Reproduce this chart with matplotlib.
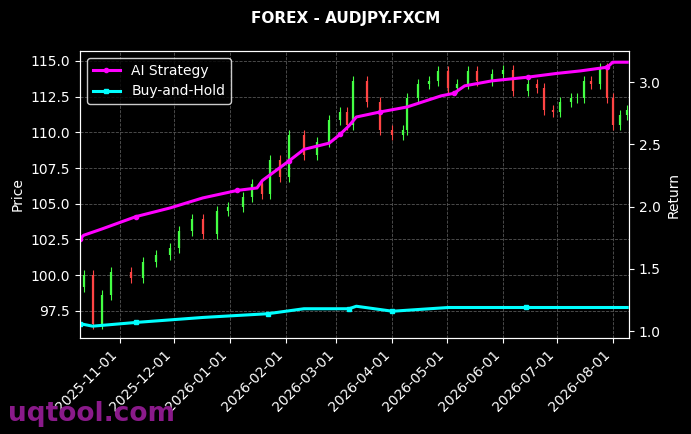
import matplotlib
matplotlib.use("Agg")
import matplotlib.pyplot as plt
import matplotlib.dates as mdates
import numpy as np
import pandas as pd

price_dates = ["2025-10-12","2025-10-17","2025-10-22","2025-10-27","2025-11-07","2025-11-14","2025-11-21",
    "2025-11-29","2025-12-04","2025-12-11","2025-12-17","2025-12-25","2025-12-31","2026-01-08","2026-01-13",
    "2026-01-19","2026-01-23","2026-01-29","2026-02-03","2026-02-11","2026-02-18","2026-02-25","2026-03-03",
    "2026-03-07","2026-03-10","2026-03-18","2026-03-25","2026-04-01","2026-04-07","2026-04-09","2026-04-15",
    "2026-04-21","2026-04-26","2026-05-02","2026-05-07","2026-05-13","2026-05-18","2026-05-26","2026-06-01",
    "2026-06-07","2026-06-15","2026-06-20","2026-06-24","2026-06-29","2026-07-03","2026-07-09","2026-07-12",
    "2026-07-16","2026-07-20","2026-07-25","2026-07-29","2026-08-01","2026-08-05","2026-08-09"]
closes = [100.0,96.6,98.6,100.2,99.8,100.9,101.4,101.9,103.1,103.9,102.9,104.5,104.8,105.5,106.4,
    105.7,108.1,106.9,109.8,108.4,109.3,110.9,111.4,110.5,113.6,112.1,110.2,109.8,110.2,112.4,113.4,
    113.6,114.3,113.1,113.4,114.3,113.6,114.1,114.4,112.9,113.4,113.1,111.6,111.4,112.1,112.4,112.4,
    113.6,113.4,114.5,112.4,110.5,111.2,111.6]
opens = [99.2] + closes[:-1]
wick = 0.35

strat_dates = ["2025-10-10","2025-10-12","2025-10-22","2025-11-10","2025-11-29","2025-12-17","2026-01-05",
    "2026-01-16","2026-01-19","2026-02-03","2026-02-11","2026-02-25","2026-03-03","2026-03-08","2026-03-12",
    "2026-03-25","2026-04-09","2026-04-28","2026-05-05","2026-05-11","2026-05-26","2026-06-15","2026-07-01",
    "2026-07-14","2026-07-29","2026-08-01","2026-08-09"]
strat_vals = [1.74,1.77,1.82,1.92,1.99,2.07,2.13,2.15,2.21,2.37,2.46,2.51,2.58,2.65,2.72,2.76,2.80,2.89,
    2.91,2.97,3.01,3.04,3.07,3.09,3.12,3.16,3.16]

bh_dates = ["2025-10-10","2025-10-17","2025-11-10","2025-12-17","2026-01-22","2026-02-11","2026-03-08",
    "2026-03-12","2026-04-01","2026-05-02","2026-06-14","2026-08-09"]
bh_vals = [1.06,1.04,1.07,1.11,1.14,1.18,1.18,1.20,1.16,1.19,1.19,1.19]

plt.rcParams['font.family'] = ['DejaVu Sans']
fig = plt.figure(figsize=(6.91, 4.34), dpi=100, facecolor='black')
ax = fig.add_axes([80/691, 1-338/434, (629-80)/691, (338-51)/434])
ax.set_facecolor('black')
pd_ = mdates.date2num(pd.to_datetime(price_dates))
for x, o, c in zip(pd_, opens, closes):
    col = '#44ff44' if c >= o else '#ff4444'
    ax.vlines(x, min(o, c) - wick, max(o, c) + wick, color=col, lw=0.8)
    ax.vlines(x, min(o, c), max(o, c), color=col, lw=1.6)
ax.set_ylim(95.6, 115.7)
ax.set_xlim(mdates.date2num(pd.Timestamp("2025-10-10")), mdates.date2num(pd.Timestamp("2026-08-10")))
ax.set_ylabel("Price", color='white')
ax.grid(True, color='#555555', ls='--', lw=0.6)
ax.xaxis.set_major_locator(mdates.MonthLocator())
ax.xaxis.set_major_formatter(mdates.DateFormatter('%Y-%m-%d'))
plt.setp(ax.get_xticklabels(), rotation=45, ha='right')
ax.tick_params(colors='white')
for s in ax.spines.values():
    s.set_color('white')

ax2 = ax.twinx()
sd = mdates.date2num(pd.to_datetime(strat_dates))
bd = mdates.date2num(pd.to_datetime(bh_dates))
ax2.plot(sd, strat_vals, color='#ff00ff', lw=2.2, marker='o', ms=3, markevery=3, label='AI Strategy')
ax2.plot(bd, bh_vals, color='#00ffff', lw=2.2, marker='s', ms=3, markevery=2, label='Buy-and-Hold')
ax2.set_ylim(0.945, 3.25)
ax2.set_ylabel("Return", color='white')
ax2.tick_params(colors='white')
for s in ax2.spines.values():
    s.set_color('white')
leg = ax2.legend(loc='upper left', facecolor='black', edgecolor='white', labelcolor='white')

fig.suptitle("FOREX - AUDJPY.FXCM", color='white', fontweight='bold', fontsize=11, y=0.975)
fig.text(0.012, 0.03, "uqtool.com", color='#8a1a8a', fontsize=19, fontweight='bold')
fig.savefig("out.png", dpi=100, facecolor='black')
